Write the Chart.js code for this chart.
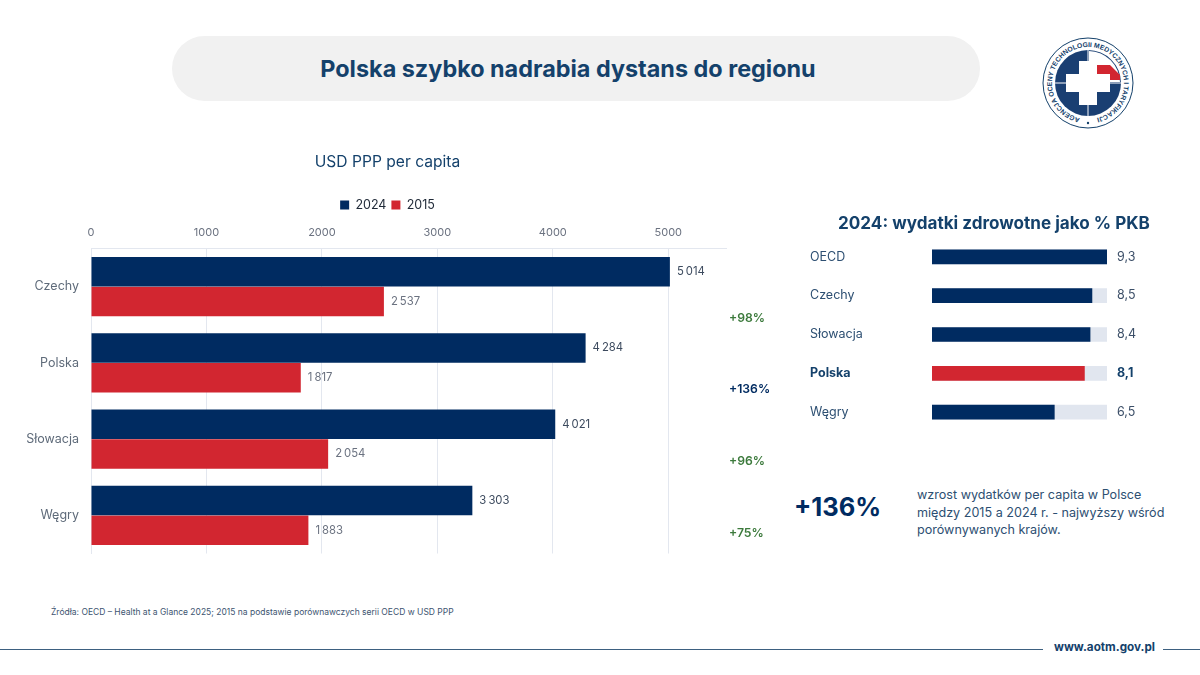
<!DOCTYPE html>
<html lang="pl">
<head>
<meta charset="utf-8">
<title>Polska szybko nadrabia dystans do regionu</title>
<script src="https://cdn.jsdelivr.net/npm/chart.js@4/dist/chart.umd.min.js"></script>
<style>
    html, body { margin: 0; padding: 0; background: #fff; }
    body { width: 1200px; height: 675px; position: relative; overflow: hidden; font-family: "Inter", sans-serif; color: #14416b; }
    .abs { position: absolute; white-space: nowrap; }
    #pill { left: 172px; top: 36px; width: 808px; height: 65px; border-radius: 33px; background: #f1f1f1; }
    #title { left: 164px; top: 36px; width: 808px; line-height: 65px; text-align: center; font-size: 23.4px; font-weight: 700; }
    #gdpTitle { left: 799px; top: 212px; width: 390px; text-align: center; font-size: 17.1px; font-weight: 700; }
    #big { left: 794px; top: 491px; font-size: 25.5px; font-weight: 700; color: #002b61; }
    #note { left: 917px; top: 486px; font-size: 12.6px; line-height: 17.5px; color: #2d4f72; }
    #source { left: 51px; top: 607px; font-size: 8.5px; color: #3d5470; }
    #lineL { left: 0; top: 648.5px; width: 1043px; height: 1.5px; background: #3d6080; }
    #lineR { left: 1163px; top: 648.5px; width: 37px; height: 1.5px; background: #3d6080; }
    #www { left: 1054px; top: 640px; font-size: 11.7px; font-weight: 700; color: #14416b; }
    .growth { font-size: 12.2px; font-weight: 600; }
    #spendChart { position: absolute; left: 0; top: 145px; }
    #gdpChart { position: absolute; left: 810px; top: 230px; }
    #logo { left: 1040px; top: 34.5px; }
</style>
</head>
<body>
<div id="pill" class="abs"></div>
<div id="title" class="abs">Polska szybko nadrabia dystans do regionu</div>

<svg id="logo" class="abs" width="96" height="96" viewBox="0 0 96 96">
    <defs><path id="ring" d="M48 84 a36 36 0 1 1 0 -72 a36 36 0 1 1 0 72"/></defs>
    <circle cx="48" cy="48" r="45" fill="#fff" stroke="#14416b" stroke-width="1"/>
    <circle cx="48" cy="48" r="33" fill="#1a3f72"/>
    <path d="M49 16 a32 32 0 0 1 31 31 h-31 z" fill="#fff"/>
    <path d="M55 30 h15 l10 10 v5 h-24 z" fill="#d22630"/>
    <path d="M39 26 h18 v13 h13 v18 h-13 v13 h-18 v-13 h-13 v-18 h13 z" fill="#fff"/>
    <path d="M48 15 v66 M15 48 h66" stroke="#fff" stroke-width="1"/>
    <circle cx="48" cy="88" r="1.2" fill="#14416b"/>
    <text font-size="6.8" font-weight="700" fill="#14416b" font-family="Liberation Sans">
        <textPath href="#ring" startOffset="8" textLength="209" lengthAdjust="spacing">AGENCJA OCENY TECHNOLOGII MEDYCZNYCH I TARYFIKACJI</textPath>
    </text>
</svg>

<canvas id="spendChart" width="775" height="428"></canvas>
<canvas id="gdpChart" width="370" height="209"></canvas>

<div id="gdpTitle" class="abs">2024: wydatki zdrowotne jako % PKB</div>
<div id="big" class="abs">+136%</div>
<div id="note" class="abs">wzrost wydatków per capita w Polsce<br>między 2015 a 2024 r. - najwyższy wśród<br>porównywanych krajów.</div>
<div id="source" class="abs">Źródła: OECD – Health at a Glance 2025; 2015 na podstawie porównawczych serii OECD w USD PPP</div>
<div id="lineL" class="abs"></div>
<div id="www" class="abs">www.aotm.gov.pl</div>
<div id="lineR" class="abs"></div>

<script>
const countries = ["Czechy", "Polska", "Słowacja", "Węgry"];
const spend2024 = [5014, 4284, 4021, 3303];
const spend2015 = [2537, 1817, 2054, 1883];
const spendTicks = [0, 1000, 2000, 3000, 4000, 5000];
const growthLabels = ["+98%", "+136%", "+96%", "+75%"];

const gdpCountries = ["OECD", "Czechy", "Słowacja", "Polska", "Węgry"];
const gdpValues = [9.3, 8.5, 8.4, 8.1, 6.5];
const gdpTrack = [9.3, 9.3, 9.3, 9.3, 9.3];
const gdpLabels = ["9,3", "8,5", "8,4", "8,1", "6,5"];

const NAVY = "#002b61";
const RED = "#d22630";
const FONT = "Inter";

function formatSpend(v) {
    return String(v).replace(/\B(?=(\d{3})+$)/g, "\u2009");
}

// growth labels sit on their own spacing, not on the category bands
const growthTops = [310, 381, 453, 525];
growthLabels.forEach((label, i) => {
    const el = document.createElement("div");
    el.className = "abs growth";
    el.textContent = label;
    el.style.left = "729px";
    el.style.top = growthTops[i] + "px";
    el.style.color = label === "+136%" ? "#002b61" : "#3c7a3c";
    document.body.appendChild(el);
});

const spendLabels = {
    id: "spendLabels",
    afterDatasetsDraw(chart) {
        const ctx = chart.ctx;
        ctx.save();
        ctx.font = "11.3px " + FONT;
        ctx.textBaseline = "middle";
        [0, 1].forEach(d => {
            const values = chart.data.datasets[d].data;
            ctx.fillStyle = d === 0 ? "#3c4a5e" : "#6b7280";
            chart.getDatasetMeta(d).data.forEach((bar, i) => {
                ctx.fillText(formatSpend(values[i]), bar.x + 7, bar.y);
            });
        });
        ctx.restore();
    }
};

// legend item gap needs padding, but the box should not grow with it
const tightLegend = {
    id: "tightLegend",
    beforeInit(chart) {
        const fit = chart.legend.fit;
        chart.legend.fit = function () {
            fit.call(this);
            this.height -= 4;
        };
    }
};

new Chart(document.getElementById("spendChart"), {
    type: "bar",
    data: {
        labels: countries,
        datasets: [
            { label: "2024", data: spend2024, backgroundColor: NAVY, categoryPercentage: 0.78, barPercentage: 0.99 },
            { label: "2015", data: spend2015, backgroundColor: RED, categoryPercentage: 0.78, barPercentage: 0.99 }
        ]
    },
    options: {
        indexAxis: "y",
        responsive: false,
        animation: false,
        layout: { padding: { bottom: 4 } },
        plugins: {
            title: { display: true, text: "USD PPP per capita", color: "#14416b", font: { family: FONT, size: 15.6, weight: "400" }, padding: { top: 8, bottom: 22 } },
            legend: {
                position: "top",
                labels: { boxWidth: 9, boxHeight: 9, padding: 5, color: "#1f2937", font: { family: FONT, size: 12.5 } }
            },
            tooltip: { enabled: false }
        },
        scales: {
            x: {
                position: "top",
                min: 0,
                max: 5500,
                afterBuildTicks(scale) { scale.ticks = spendTicks.map(v => ({ value: v })); },
                ticks: { color: "#6b7280", padding: 9, font: { family: FONT, size: 11 }, callback: v => String(v) },
                grid: { color: "#e3e7ef", drawTicks: false },
                border: { color: "#e3e7ef" }
            },
            y: {
                afterFit(scale) { scale.width = 91; },
                ticks: { color: "#5f6b7a", padding: 12, font: { family: FONT, size: 12.5 } },
                grid: { display: false, drawTicks: false },
                border: { color: "#e3e7ef" }
            },
            // empty axis reserving the room on the right, title and legend stay centred on the canvas
            yRight: {
                axis: "y",
                type: "category",
                position: "right",
                afterFit(scale) { scale.width = 49; },
                ticks: { display: false },
                grid: { display: false, drawTicks: false },
                border: { display: false }
            }
        }
    },
    plugins: [spendLabels, tightLegend]
});

const gdpValueLabels = {
    id: "gdpValueLabels",
    afterDatasetsDraw(chart) {
        const ctx = chart.ctx;
        ctx.save();
        ctx.textBaseline = "middle";
        chart.getDatasetMeta(1).data.forEach((bar, i) => {
            const bold = gdpCountries[i] === "Polska";
            ctx.font = (bold ? "700 " : "") + "12.5px " + FONT;
            ctx.fillStyle = bold ? "#14416b" : "#3c4f68";
            ctx.fillText(gdpLabels[i], bar.x + 10, chart.getDatasetMeta(0).data[i].y);
        });
        ctx.restore();
    }
};

new Chart(document.getElementById("gdpChart"), {
    type: "bar",
    data: {
        labels: gdpCountries,
        datasets: [
            {
                label: "PKB",
                data: gdpValues,
                backgroundColor: gdpCountries.map(c => c === "Polska" ? RED : NAVY),
                barThickness: 14,
                grouped: false,
                order: 1
            },
            {
                label: "skala",
                data: gdpTrack,
                backgroundColor: "#e1e6ef",
                barThickness: 14,
                grouped: false,
                order: 2
            }
        ]
    },
    options: {
        indexAxis: "y",
        responsive: false,
        animation: false,
        layout: { padding: { right: 73, top: 0, bottom: 0 } },
        plugins: { legend: { display: false }, tooltip: { enabled: false } },
        scales: {
            x: { display: false, min: 0, max: 9.3 },
            y: {
                afterFit(scale) { scale.width = 122; },
                grid: { display: false, drawTicks: false },
                border: { display: false },
                ticks: {
                    crossAlign: "far",
                    padding: 0,
                    color: ctx => gdpCountries[ctx.index] === "Polska" ? "#14416b" : "#2d4f72",
                    font: ctx => ({ family: FONT, size: 12.5, weight: gdpCountries[ctx.index] === "Polska" ? "700" : "400" })
                }
            }
        }
    },
    plugins: [gdpValueLabels]
});
</script>
</body>
</html>
